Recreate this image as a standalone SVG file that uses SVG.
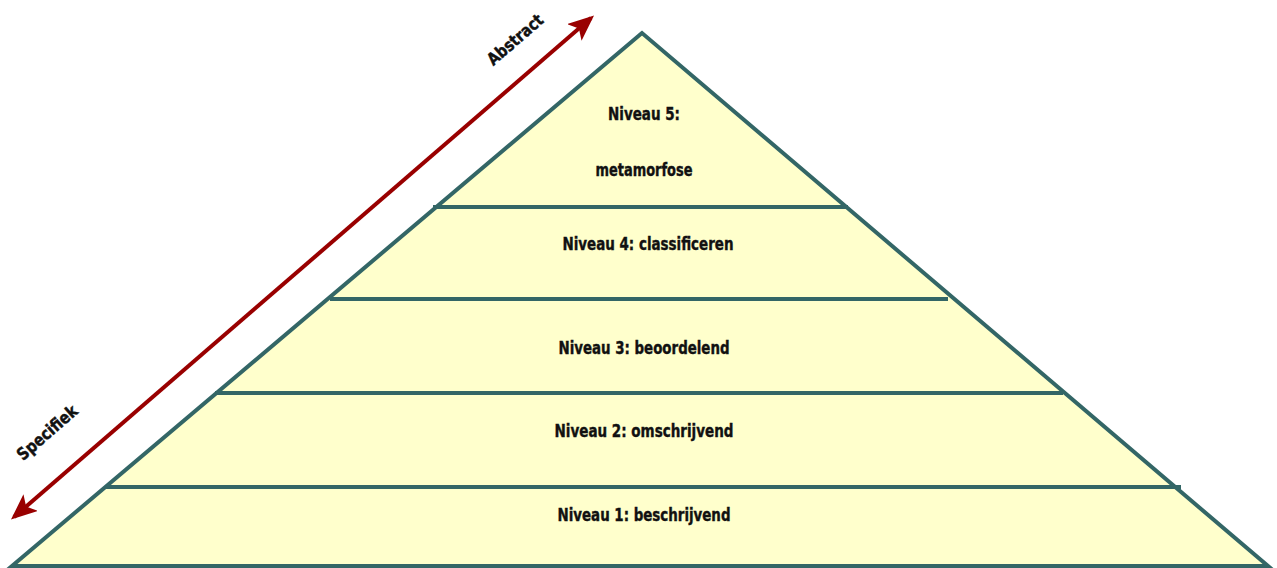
<svg xmlns="http://www.w3.org/2000/svg" width="1277" height="568" viewBox="0 0 1277 568">
<style>
.lvl{font-family:"DejaVu Sans Condensed","Liberation Sans",sans-serif;font-weight:bold;font-size:18px;fill:#111;stroke:#111;stroke-width:0.4;text-anchor:middle}
.div{stroke:#336666;stroke-width:4;fill:none}
.ax{font-family:"DejaVu Sans Condensed","Liberation Sans",sans-serif;font-weight:bold;font-size:17px;fill:#111;stroke:#111;stroke-width:0.4;text-anchor:middle}
</style>
<defs>
<marker id="ah" markerWidth="6.5" markerHeight="5.5" refX="5.5" refY="2.75" orient="auto-start-reverse" markerUnits="strokeWidth">
<path d="M0,0 L6.5,2.75 L0,5.5 L1.5,2.75 Z" fill="#990000"/>
</marker>
</defs>
<rect width="1277" height="568" fill="#ffffff"/>
<g id="pyramid">
<polygon points="642,33 12,566 1268,566" fill="#FFFFCC" stroke="#336666" stroke-width="4" stroke-linejoin="miter"/>
</g>
<g id="dividers">
<line class="div" x1="433" y1="207" x2="848" y2="207"/>
<line class="div" x1="330" y1="299" x2="948" y2="299"/>
<line class="div" x1="215" y1="393" x2="1063" y2="393"/>
<line class="div" x1="105" y1="487" x2="1181" y2="487"/>
</g>
<g id="level5">
<text class="lvl" x="644" y="120" textLength="72" lengthAdjust="spacingAndGlyphs">Niveau 5:</text>
<text class="lvl" x="644" y="176" textLength="97" lengthAdjust="spacingAndGlyphs">metamorfose</text>
</g>
<g id="level4"><text class="lvl" x="648" y="250" textLength="171" lengthAdjust="spacingAndGlyphs">Niveau 4: classificeren</text></g>
<g id="level3"><text class="lvl" x="644" y="354" textLength="171" lengthAdjust="spacingAndGlyphs">Niveau 3: beoordelend</text></g>
<g id="level2"><text class="lvl" x="644" y="437" textLength="179" lengthAdjust="spacingAndGlyphs">Niveau 2: omschrijvend</text></g>
<g id="level1"><text class="lvl" x="644" y="521" textLength="173" lengthAdjust="spacingAndGlyphs">Niveau 1: beschrijvend</text></g>
<g id="connectors">
<line x1="14" y1="517" x2="591" y2="18" stroke="#990000" stroke-width="4" marker-start="url(#ah)" marker-end="url(#ah)"/>
</g>
<g id="labels">
<text class="ax" transform="translate(519,44) rotate(-41)" textLength="68" lengthAdjust="spacingAndGlyphs">Abstract</text>
<text class="ax" transform="translate(51,437) rotate(-41)" textLength="74" lengthAdjust="spacingAndGlyphs">Specifiek</text>
</g>
</svg>
